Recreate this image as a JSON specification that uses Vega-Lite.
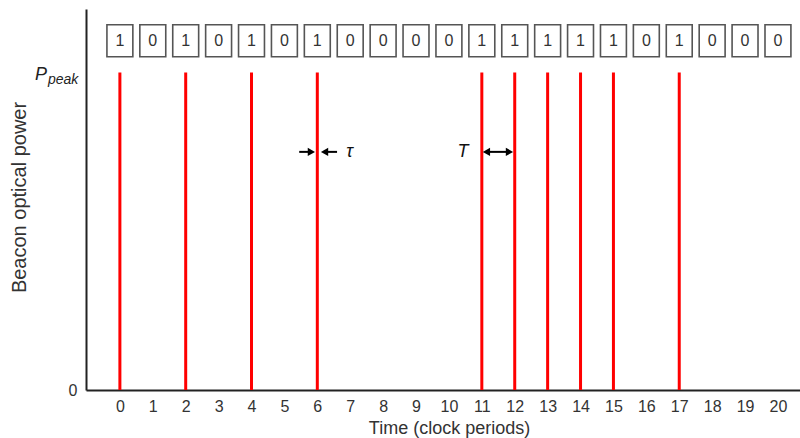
{
  "$schema": "https://vega.github.io/schema/vega-lite/v6.json",
  "autosize": "none",
  "padding": {"left": 86, "top": 9, "right": 0, "bottom": 48},
  "width": 714,
  "height": 381,
  "config": {
    "font": "Liberation Sans",
    "view": {"stroke": null},
    "axis": {"grid": false, "ticks": false, "domainColor": "#222", "domainWidth": 2, "labelColor": "#333", "titleColor": "#333", "titleFontWeight": "normal", "titleFontSize": 18, "labelFontSize": 16}
  },
  "datasets": {
    "bits": [
      {"t": 0, "bit": 1}, {"t": 1, "bit": 0}, {"t": 2, "bit": 1}, {"t": 3, "bit": 0},
      {"t": 4, "bit": 1}, {"t": 5, "bit": 0}, {"t": 6, "bit": 1}, {"t": 7, "bit": 0},
      {"t": 8, "bit": 0}, {"t": 9, "bit": 0}, {"t": 10, "bit": 0}, {"t": 11, "bit": 1},
      {"t": 12, "bit": 1}, {"t": 13, "bit": 1}, {"t": 14, "bit": 1}, {"t": 15, "bit": 1},
      {"t": 16, "bit": 0}, {"t": 17, "bit": 1}, {"t": 18, "bit": 0}, {"t": 19, "bit": 0},
      {"t": 20, "bit": 0}
    ],
    "shafts": [
      {"x1": 5.45, "x2": 5.85},
      {"x1": 6.2, "x2": 6.6},
      {"x1": 11.14, "x2": 11.84}
    ],
    "heads": [
      {"x": 5.82, "dir": "triangle-right"},
      {"x": 6.22, "dir": "triangle-left"},
      {"x": 11.14, "dir": "triangle-left"},
      {"x": 11.84, "dir": "triangle-right"}
    ],
    "labels": [
      {"x": 6.98, "label": "τ"},
      {"x": 10.43, "label": "T"}
    ]
  },
  "layer": [
    {
      "data": {"name": "bits"},
      "transform": [{"filter": "datum.bit == 1"}],
      "mark": {"type": "rule", "color": "#ff0000", "strokeWidth": 3},
      "encoding": {
        "x": {"field": "t", "type": "quantitative", "scale": {"domain": [-1.03, 20.67], "nice": false, "zero": false},
              "axis": {"values": [0,1,2,3,4,5,6,7,8,9,10,11,12,13,14,15,16,17,18,19,20], "tickCount": 21, "labelOverlap": false, "title": "Time (clock periods)", "labelPadding": 8, "titlePadding": 5, "titleX": 363}},
        "y": {"datum": 0, "type": "quantitative", "scale": {"domain": [0, 1.2], "nice": false},
              "axis": {"values": [0], "labelExpr": "'0'", "title": "Beacon optical power", "labelPadding": 9, "titleFontSize": 20, "titleX": -67, "titleY": 188, "titleBaseline": "middle", "titleAlign": "center", "titleAngle": 270}},
        "y2": {"datum": 1}
      }
    },
    {
      "data": {"name": "bits"},
      "mark": {"type": "point", "filled": false, "stroke": "#555", "strokeWidth": 1.6, "opacity": 1, "shape": "M-0.81,-1H0.81V1H-0.81Z", "size": 1024},
      "encoding": {
        "x": {"field": "t", "type": "quantitative",
              "axis": {"values": [0,1,2,3,4,5,6,7,8,9,10,11,12,13,14,15,16,17,18,19,20], "tickCount": 21, "labelOverlap": false, "title": "Time (clock periods)", "labelPadding": 8, "titlePadding": 5, "titleX": 363}},
        "y": {"datum": 1.1}
      }
    },
    {
      "data": {"name": "bits"},
      "mark": {"type": "text", "fontSize": 16, "color": "#333", "baseline": "middle", "align": "center"},
      "encoding": {
        "x": {"field": "t", "type": "quantitative",
              "axis": {"values": [0,1,2,3,4,5,6,7,8,9,10,11,12,13,14,15,16,17,18,19,20], "tickCount": 21, "labelOverlap": false, "title": "Time (clock periods)", "labelPadding": 8, "titlePadding": 5, "titleX": 363}},
        "y": {"datum": 1.1},
        "text": {"field": "bit"}
      }
    },
    {
      "mark": {"type": "rule", "color": "#222", "strokeWidth": 2},
      "encoding": {"y": {"datum": 1.2}}
    },
    {
      "data": {"name": "shafts"},
      "mark": {"type": "rule", "color": "#000", "strokeWidth": 2},
      "encoding": {
        "x": {"field": "x1", "type": "quantitative",
              "axis": {"values": [0,1,2,3,4,5,6,7,8,9,10,11,12,13,14,15,16,17,18,19,20], "tickCount": 21, "labelOverlap": false, "title": "Time (clock periods)", "labelPadding": 8, "titlePadding": 5, "titleX": 363}},
        "x2": {"field": "x2"},
        "y": {"datum": 0.75}
      }
    },
    {
      "data": {"name": "heads"},
      "mark": {"type": "point", "filled": true, "color": "#000", "opacity": 1, "size": 70},
      "encoding": {
        "x": {"field": "x", "type": "quantitative",
              "axis": {"values": [0,1,2,3,4,5,6,7,8,9,10,11,12,13,14,15,16,17,18,19,20], "tickCount": 21, "labelOverlap": false, "title": "Time (clock periods)", "labelPadding": 8, "titlePadding": 5, "titleX": 363}},
        "y": {"datum": 0.75},
        "shape": {"field": "dir", "type": "nominal", "scale": null, "legend": null}
      }
    },
    {
      "data": {"name": "labels"},
      "mark": {"type": "text", "fontSize": 18, "fontStyle": "italic", "color": "#111", "baseline": "middle", "align": "center"},
      "encoding": {
        "x": {"field": "x", "type": "quantitative",
              "axis": {"values": [0,1,2,3,4,5,6,7,8,9,10,11,12,13,14,15,16,17,18,19,20], "tickCount": 21, "labelOverlap": false, "title": "Time (clock periods)", "labelPadding": 8, "titlePadding": 5, "titleX": 363}},
        "y": {"datum": 0.75},
        "text": {"field": "label"}
      }
    },
    {
      "data": {"values": [{"s": "P"}]},
      "mark": {"type": "text", "fontSize": 18, "fontStyle": "italic", "color": "#222", "baseline": "alphabetic", "align": "left", "dx": -51, "dy": 7.5},
      "encoding": {
        "x": {"datum": -1.03},
        "y": {"datum": 1},
        "text": {"field": "s"}
      }
    },
    {
      "data": {"values": [{"s": "peak"}]},
      "mark": {"type": "text", "fontSize": 14, "fontStyle": "italic", "color": "#222", "baseline": "alphabetic", "align": "left", "dx": -38, "dy": 11},
      "encoding": {
        "x": {"datum": -1.03},
        "y": {"datum": 1},
        "text": {"field": "s"}
      }
    }
  ]
}
